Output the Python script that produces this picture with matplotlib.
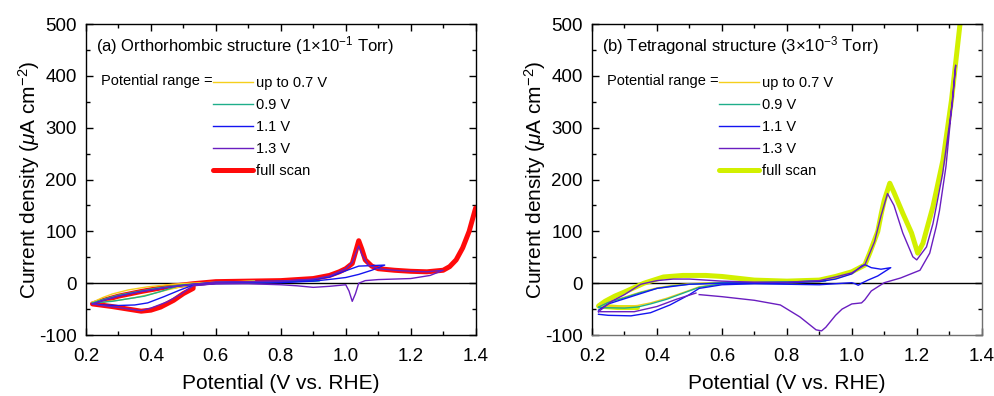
import numpy as np
import matplotlib
matplotlib.use('Agg')
import matplotlib.pyplot as plt
from matplotlib.ticker import MultipleLocator

plt.rcParams['font.family'] = ['Liberation Sans', 'DejaVu Sans']
plt.rcParams['mathtext.fontset'] = 'custom'
plt.rcParams['mathtext.rm'] = 'Liberation Sans'
plt.rcParams['mathtext.it'] = 'Liberation Sans:italic'
plt.rcParams['axes.unicode_minus'] = False

# ---- (a) orthorhombic: potential (V) / current (uA cm-2)
a07_v = [0.22, 0.25, 0.28, 0.33, 0.39, 0.45, 0.50, 0.60, 0.72,
         0.60, 0.55, 0.50, 0.45, 0.40, 0.35, 0.30, 0.25, 0.22]
a07_j = [-37, -28, -21, -13, -7, -3, -0.5, 2, 4,
         1, -2, -6, -13, -21, -28, -33, -36, -37]

a09_v = [0.22, 0.26, 0.30, 0.36, 0.42, 0.50, 0.60, 0.70, 0.80, 0.92,
         0.80, 0.70, 0.60, 0.53, 0.48, 0.43, 0.38, 0.33, 0.28, 0.22]
a09_j = [-38, -30, -23, -16, -9, -3, 1, 2.5, 3, 5,
         2, 1, 0, -3, -6, -16, -25, -30, -35, -38]

a11_v = [0.22, 0.26, 0.30, 0.37, 0.45, 0.53, 0.60, 0.70, 0.80, 0.90, 0.95, 1.00, 1.04, 1.08, 1.12,
         1.08, 1.04, 1.00, 0.96, 0.90, 0.80, 0.70, 0.60, 0.53, 0.49, 0.44, 0.39, 0.35, 0.30, 0.25, 0.22]
a11_j = [-40, -32, -25, -16, -8, -2, 2, 3, 4, 7, 12, 24, 33, 34, 35,
         25, 17, 11, 8, 4, 1, 0, -1, -4, -13, -26, -38, -42, -43, -42, -40]

a13_v = [0.22, 0.26, 0.30, 0.37, 0.45, 0.53, 0.60, 0.70, 0.80, 0.90, 0.95, 1.00, 1.02, 1.035, 1.04,
         1.05, 1.07, 1.10, 1.15, 1.20, 1.25, 1.30,
         1.26, 1.20, 1.10, 1.06, 1.04, 1.03, 1.02, 1.01, 1.00, 0.95, 0.90, 0.85, 0.80, 0.70, 0.60,
         0.53, 0.49, 0.45, 0.40, 0.37, 0.30, 0.25, 0.22]
a13_j = [-40, -32, -25, -16, -8, -2, 2, 3, 4, 8, 14, 28, 40, 65, 72,
         55, 35, 28, 25, 23, 22, 25,
         15, 9, 7, 5, 0, -20, -35, -15, -3, -6, -8, -5, -3, -1, -1,
         -5, -22, -36, -48, -53, -47, -43, -40]

afull_v = [0.53, 0.53, 0.50, 0.47, 0.43, 0.40, 0.37, 0.33, 0.28, 0.22,
           0.26, 0.30, 0.37, 0.45, 0.53, 0.60, 0.70, 0.80, 0.90, 0.95, 0.98, 1.00, 1.02, 1.03,
           1.04, 1.05, 1.06, 1.08, 1.10, 1.15, 1.20, 1.25, 1.30, 1.32, 1.34, 1.36, 1.38, 1.40]
afull_j = [-3, -10, -20, -33, -46, -52, -54, -50, -45, -40,
           -32, -25, -16, -7, -1, 3, 4, 5, 9, 15, 22, 28, 38, 60,
           82, 65, 45, 33, 28, 25, 23, 22, 25, 32, 45, 68, 100, 145]

# ---- (b) tetragonal
b07_v = [0.22, 0.25, 0.30, 0.35, 0.40, 0.45, 0.50, 0.60, 0.72,
         0.60, 0.53, 0.49, 0.43, 0.38, 0.34, 0.30, 0.22]
b07_j = [-45, -36, -27, -17, -9, -4, -1, 2, 3,
         -1, -7, -16, -29, -38, -43, -45, -44]

b09_v = [0.22, 0.25, 0.30, 0.35, 0.40, 0.45, 0.50, 0.60, 0.80, 0.92,
         0.80, 0.70, 0.60, 0.53, 0.49, 0.43, 0.38, 0.34, 0.30, 0.22]
b09_j = [-46, -37, -28, -18, -10, -5, -2, 1, 2, 5,
         2, 1, -1, -8, -17, -31, -40, -46, -48, -47]

b11_v = [0.22, 0.25, 0.32, 0.40, 0.50, 0.60, 0.70, 0.80, 0.90, 0.95, 1.00, 1.03, 1.04, 1.06, 1.09, 1.12,
         1.10, 1.08, 1.05, 1.03, 1.02, 1.01, 1.00, 0.95, 0.90, 0.80, 0.70, 0.60, 0.53, 0.50, 0.44,
         0.38, 0.32, 0.25, 0.22]
b11_j = [-52, -40, -26, -10, -2, 0, 1, 1, 3, 8, 18, 33, 36, 30, 27, 30,
         22, 14, 6, 0, -4, -1, 1, -1, -3, -2, -1, -3, -10, -22, -42,
         -57, -63, -62, -60]

b13_v = [0.22, 0.26, 0.30, 0.35, 0.40, 0.45, 0.50, 0.60, 0.70, 0.80, 0.90, 0.95, 1.00, 1.04, 1.07,
         1.09, 1.11, 1.13, 1.157, 1.188, 1.20, 1.23, 1.25, 1.28, 1.31, 1.32,
         1.30, 1.29, 1.27, 1.26, 1.24, 1.21, 1.15, 1.10, 1.06, 1.04, 1.03, 1.00, 0.97, 0.95, 0.92,
         0.907, 0.89, 0.86, 0.84, 0.78, 0.70, 0.60, 0.53, np.nan,
         0.52, 0.46, 0.40, 0.33, 0.22]
b13_j = [-55, -35, -22, -2, 5, 8, 8, 4, 2, 2, 5, 12, 20, 35, 80,
         130, 173, 150, 97, 51, 45, 70, 115, 212, 350, 421,
         290, 225, 140, 109, 58, 25, 10, 1, -15, -32, -38, -40, -50, -62, -85,
         -92, -90, -75, -65, -42, -33, -26, -22, np.nan,
         -19, -31, -45, -55, -55]

bfull_v = [0.34, 0.28, 0.22, 0.24, 0.27, 0.30, 0.36, 0.42, 0.48, 0.55, 0.60, 0.70, 0.80, 0.90,
           0.95, 1.00, 1.04, 1.055, 1.08, 1.091, 1.10, 1.117, 1.13, 1.157, 1.184, 1.203, 1.219,
           1.25, 1.281, 1.307, 1.335]
bfull_j = [-47, -47, -44, -35, -25, -17, 0, 12, 15, 15, 13, 6, 4, 6,
           13, 22, 35, 58, 100, 135, 160, 193, 175, 135, 97, 58, 77,
           148, 238, 353, 510]

range_labels = ['up to 0.7 V', '0.9 V', '1.1 V', '1.3 V', 'full scan']
thin_colors = ['#f5cf1c', '#1fae8a', '#1414f0', '#6a1ec0']

panels = [
    ('(a) Orthorhombic structure (1$\\times$10$^{-1}$ Torr)',
     [(a07_v, a07_j), (a09_v, a09_j), (a11_v, a11_j), (a13_v, a13_j)],
     (afull_v, afull_j), '#ff0a0a', 0.0865, 'black'),
    ('(b) Tetragonal structure (3$\\times$10$^{-3}$ Torr)',
     [(b07_v, b07_j), (b09_v, b09_j), (b11_v, b11_j), (b13_v, b13_j)],
     (bfull_v, bfull_j), '#d2f000', 0.5956, '#707070'),
]

fig = plt.figure(figsize=(9.94, 3.96), dpi=100)

for title, curves, full, full_color, left, edge in panels:
    ax = fig.add_axes([left, 0.154, 0.392, 0.785])
    ax.axhline(0, color='black', lw=1.0, zorder=1)
    for (v, j), c, lab in zip(curves, thin_colors, range_labels):
        ax.plot(v, j, color=c, lw=1.0, label=lab, zorder=3)
    ax.plot(full[0], full[1], color=full_color, lw=3.6, label=range_labels[-1],
            zorder=2, solid_capstyle='round')

    ax.set_xlim(0.2, 1.4)
    ax.set_ylim(-100, 500)
    ax.xaxis.set_major_locator(MultipleLocator(0.2))
    ax.xaxis.set_minor_locator(MultipleLocator(0.1))
    ax.yaxis.set_major_locator(MultipleLocator(100))
    ax.yaxis.set_minor_locator(MultipleLocator(50))
    ax.xaxis.set_major_formatter(plt.FormatStrFormatter('%.1f'))
    ax.tick_params(which='both', direction='in', top=True, right=True, labelsize=13.5, width=1)
    ax.tick_params(which='major', length=5)
    ax.tick_params(which='minor', length=3)
    ax.tick_params(axis='x', which='major', pad=9)
    ax.tick_params(axis='y', which='major', pad=6.5)
    for s in ax.spines.values():
        s.set_linewidth(1.0)
    ax.spines['bottom'].set_color(edge)
    ax.spines['right'].set_color(edge)

    ax.set_xlabel('Potential (V vs. RHE)', fontsize=15)
    ax.set_ylabel('Current density ($\\mu$A cm$^{-2}$)', fontsize=15)
    ax.xaxis.set_label_coords(0.5, -0.127)
    ax.yaxis.set_label_coords(-0.113, 0.5)

    ax.text(0.026, 0.932, title, transform=ax.transAxes, fontsize=12, va='center', ha='left')
    ax.text(0.326, 0.817, 'Potential range =', transform=ax.transAxes, fontsize=10.5,
            va='center', ha='right')
    ax.legend(loc='upper left', bbox_to_anchor=(0.326, 0.834), frameon=False, fontsize=10.5,
              borderpad=0, borderaxespad=0, handlelength=2.75, handletextpad=0.2,
              labelspacing=0.55)

fig.savefig('out.png', dpi=100)
